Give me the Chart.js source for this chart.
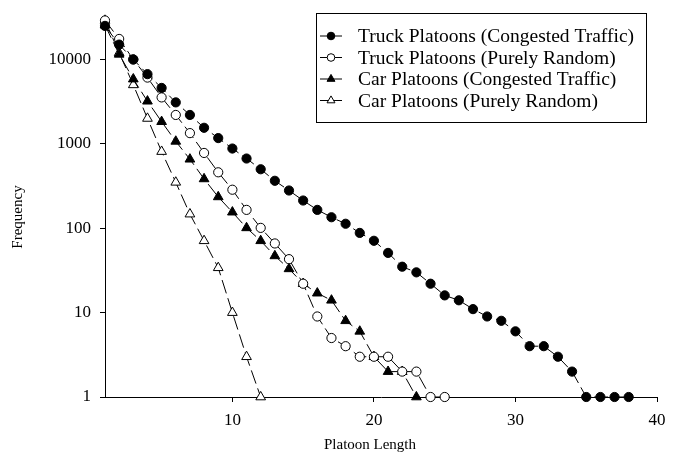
<!DOCTYPE html>
<html>
<head>
<meta charset="utf-8">
<script src="https://cdn.jsdelivr.net/npm/chart.js@4/dist/chart.umd.min.js"></script>
<style>
  html, body { margin: 0; padding: 0; background: #fff; }
  #wrap { width: 689px; height: 468px; }
</style>
</head>
<body>
<div id="wrap"><canvas id="c" width="689" height="468"></canvas></div>
<script>
// Platoon length distributions (frequency per platoon length, starting at length 1)
const truckCongested = [25000, 15000, 10000, 6700, 4600, 3100, 2200, 1550, 1170, 880,
  670, 500, 365, 280, 213, 165, 135, 113, 88, 71,
  51, 35, 30, 22, 16, 14, 11, 9, 8, 6,
  4, 4, 3, 2, 1, 1, 1, 1];
const truckRandom = [29000, 17500, 10000, 6100, 3550, 2200, 1340, 780, 460, 286,
  165, 101, 66, 43, 22, 9, 5, 4, 3, 3,
  3, 2, 2, 1, 1];
const carCongested = [25500, 11500, 5850, 3200, 1830, 1070, 657, 384, 235, 155,
  101, 71, 47, 33, 22, 17, 14, 8, 6, 3,
  2, 2, 1];
const carRandom = [29000, 12000, 5000, 2000, 810, 350, 147, 71, 34, 10, 3, 1];

const seriesNames = [
  'Truck Platoons (Congested Traffic)',
  'Truck Platoons (Purely Random)',
  'Car Platoons (Congested Traffic)',
  'Car Platoons (Purely Random)'
];
const xTicks = [10, 20, 30, 40];
const yTicks = [1, 10, 100, 1000, 10000];
const xTitle = 'Platoon Length';
const yTitle = 'Frequency';

const toPoints = arr => arr.map((v, i) => ({ x: i + 1, y: v }));

const FONT = "'Liberation Serif', 'Times New Roman', serif";

function makeSet(label, data, style, fill, radius) {
  return {
    label,
    data: toPoints(data),
    borderColor: '#000',
    borderWidth: 1,
    borderDash: [14, 5],
    pointStyle: style,
    pointRadius: radius,
    pointHoverRadius: radius,
    pointBackgroundColor: fill,
    pointBorderColor: '#000',
    pointBorderWidth: 1,
    fill: false,
    tension: 0,
    clip: false
  };
}

const datasets = [
  makeSet(seriesNames[0], truckCongested, 'circle', '#000', 4.6),
  makeSet(seriesNames[1], truckRandom, 'circle', '#fff', 4.6),
  makeSet(seriesNames[2], carCongested, 'triangle', '#000', 5.6),
  makeSet(seriesNames[3], carRandom, 'triangle', '#fff', 5.6)
];

// Axis titles and a boxed legend with a short line through each marker
const decorations = {
  id: 'decorations',
  afterDraw(chart) {
    const ctx = chart.ctx;
    ctx.save();
    ctx.fillStyle = '#000';
    ctx.font = '15px ' + FONT;
    ctx.textAlign = 'center';
    ctx.textBaseline = 'middle';
    ctx.fillText(xTitle, 370, 445);
    ctx.save();
    ctx.translate(18, 217);
    ctx.rotate(-Math.PI / 2);
    ctx.fillText(yTitle, 0, 0);
    ctx.restore();

    const bx = 316, by = 13, bw = 330, bh = 109;
    ctx.strokeStyle = '#000';
    ctx.lineWidth = 1;
    ctx.strokeRect(bx + 0.5, by + 0.5, bw, bh);
    ctx.font = '19.5px ' + FONT;
    const rowY = [36, 57.5, 79, 100.5];
    chart.data.datasets.forEach((ds, i) => {
      const y = rowY[i];
      const cx = 331;
      ctx.setLineDash([]);
      ctx.lineWidth = 1;
      ctx.strokeStyle = '#000';
      ctx.beginPath();
      ctx.moveTo(cx - 11, y);
      ctx.lineTo(cx + 11, y);
      ctx.stroke();
      ctx.fillStyle = ds.pointBackgroundColor;
      Chart.helpers.drawPoint(ctx, {
        pointStyle: ds.pointStyle,
        radius: ds.pointStyle === 'circle' ? 3.8 : 4.6,
        rotation: 0,
        borderWidth: 1
      }, cx, y);
      ctx.fillStyle = '#000';
      ctx.textAlign = 'left';
      ctx.fillText(ds.label, 358, y + 1);
    });
    ctx.restore();
  }
};

new Chart(document.getElementById('c'), {
  type: 'line',
  data: { datasets },
  options: {
    responsive: false,
    animation: false,
    events: [],
    layout: { padding: { top: 12, right: 32, bottom: 0, left: 0 } },
    plugins: {
      legend: { display: false },
      tooltip: { enabled: false }
    },
    scales: {
      x: {
        type: 'linear',
        min: 1,
        max: 40,
        afterBuildTicks: s => { s.ticks = xTicks.map(v => ({ value: v })); },
        afterFit: s => { s.height = 71; },
        grid: { display: true, drawOnChartArea: false, drawTicks: true, tickLength: 5, color: '#000', lineWidth: 1 },
        border: { display: true, color: '#000', width: 1 },
        ticks: { color: '#000', font: { family: FONT, size: 17 }, padding: 8, maxRotation: 0 },
        title: { display: false }
      },
      y: {
        type: 'logarithmic',
        min: 1,
        max: 30000,
        afterBuildTicks: s => { s.ticks = yTicks.map(v => ({ value: v })); },
        afterFit: s => { s.width = 105; },
        grid: { display: true, drawOnChartArea: false, drawTicks: true, tickLength: 5, color: '#000', lineWidth: 1 },
        border: { display: true, color: '#000', width: 1 },
        ticks: { color: '#000', font: { family: FONT, size: 17 }, padding: 9, callback: v => String(v) },
        title: { display: false }
      }
    }
  },
  plugins: [decorations]
});
</script>
</body>
</html>
